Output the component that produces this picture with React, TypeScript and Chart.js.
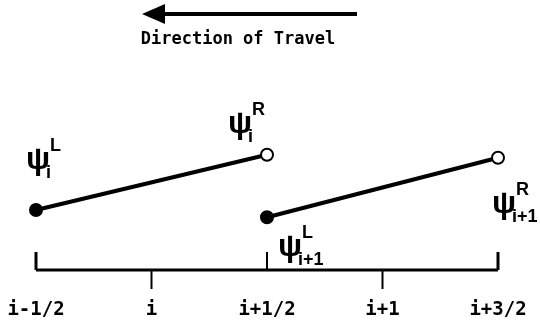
import React, { useEffect, useRef } from "react";
import { Chart, registerables } from "chart.js";

Chart.register(...registerables);

// ---- data ----
const tickPositions = [0, 1, 2, 3, 4];
const tickLabels = ["i-1/2", "i", "i+1/2", "i+1", "i+3/2"];
const cellLeftEdge = [0, 2]; // i-1/2, i+1/2
const cellRightEdge = [2, 4]; // i+1/2, i+3/2
const psiLeftValues = [1.0, 0.88]; // ψ_i^L, ψ_{i+1}^L
const psiRightValues = [1.92, 1.87]; // ψ_i^R, ψ_{i+1}^R
const cellSubscripts = ["i", "i+1"];
const titleText = "Direction of Travel";

const datasets = cellSubscripts.map((_, k) => ({
  label: "cell " + cellSubscripts[k],
  data: [
    { x: cellLeftEdge[k], y: psiLeftValues[k] },
    { x: cellRightEdge[k], y: psiRightValues[k] },
  ],
  showLine: true,
  borderColor: "#000",
  borderWidth: 4,
  pointRadius: 6,
  pointBorderWidth: 2,
  pointBorderColor: "#000",
  pointBackgroundColor: ["#000", "#fff"],
  clip: false as const,
}));

// label placement: which point, and offset of ψ centre from that point
const psiLabels = [
  { ds: 0, pt: 0, sup: "L", dx: 2, dy: -48 },
  { ds: 0, pt: 1, sup: "R", dx: -27, dy: -29 },
  { ds: 1, pt: 0, sup: "L", dx: 23, dy: 32 },
  { ds: 1, pt: 1, sup: "R", dx: 6, dy: 48 },
];

const annotate = {
  id: "annotate",
  beforeDatasetsDraw(chart: any) {
    const { ctx } = chart;
    const x = chart.scales.x;
    const y = chart.scales.y;
    const y0 = y.getPixelForValue(0);
    const last = tickPositions.length - 1;
    ctx.save();
    ctx.strokeStyle = "#000";
    ctx.fillStyle = "#000";
    ctx.lineWidth = 3;
    ctx.beginPath();
    ctx.moveTo(x.getPixelForValue(tickPositions[0]), y0);
    ctx.lineTo(x.getPixelForValue(tickPositions[last]), y0);
    ctx.stroke();
    tickPositions.forEach((v, i) => {
      const px = x.getPixelForValue(v);
      const up = i % 2 === 0;
      ctx.lineWidth = i === 0 || i === last ? 3 : 2;
      ctx.beginPath();
      ctx.moveTo(px, y0);
      ctx.lineTo(px, up ? y0 - 18 : y0 + 19);
      ctx.stroke();
    });
    ctx.font = "bold 19px 'DejaVu Sans Mono'";
    ctx.textAlign = "center";
    ctx.textBaseline = "middle";
    tickLabels.forEach((t, i) => {
      ctx.fillText(t, x.getPixelForValue(tickPositions[i]), y0 + 40);
    });
    ctx.restore();
  },
  afterDraw(chart: any) {
    const { ctx } = chart;
    ctx.save();
    ctx.fillStyle = "#000";
    ctx.strokeStyle = "#000";
    // arrow
    ctx.lineWidth = 4;
    ctx.beginPath();
    ctx.moveTo(357, 14);
    ctx.lineTo(160, 14);
    ctx.stroke();
    ctx.beginPath();
    ctx.moveTo(142, 14);
    ctx.lineTo(165, 4);
    ctx.lineTo(165, 24);
    ctx.closePath();
    ctx.fill();
    // title
    ctx.font = "bold 17px 'DejaVu Sans Mono'";
    ctx.textAlign = "center";
    ctx.textBaseline = "middle";
    ctx.fillText(titleText, 238, 40);
    // psi labels
    psiLabels.forEach((l) => {
      const el = chart.getDatasetMeta(l.ds).data[l.pt];
      const cx = el.x + l.dx;
      const cy = el.y + l.dy;
      ctx.font = "bold 32px 'Liberation Sans'";
      ctx.textAlign = "center";
      ctx.textBaseline = "alphabetic";
      const m = ctx.measureText("ψ");
      const asc = m.actualBoundingBoxAscent || 0;
      const desc = m.actualBoundingBoxDescent || 0;
      ctx.fillText("ψ", cx, cy + (asc - desc) / 2);
      ctx.font = "bold 18px 'Liberation Sans'";
      ctx.textAlign = "left";
      ctx.textBaseline = "middle";
      ctx.fillText(l.sup, cx + 12, cy - 16);
      ctx.fillText(cellSubscripts[l.ds], cx + 8, cy + 11);
    });
    ctx.restore();
  },
};

export default function App() {
  const ref = useRef<HTMLCanvasElement | null>(null);
  useEffect(() => {
    if (!ref.current) return;
    const chart = new Chart(ref.current, {
      type: "scatter",
      data: { datasets },
      options: {
        animation: false,
        responsive: true,
        maintainAspectRatio: false,
        events: [],
        layout: { padding: { left: 36, right: 42, top: 90, bottom: 58 } },
        plugins: {
          legend: { display: false },
          tooltip: { enabled: false },
          title: { display: false },
        },
        scales: {
          x: { type: "linear", min: 0, max: 4, display: false },
          y: { type: "linear", min: 0, max: 3, display: false },
        },
      },
      plugins: [annotate],
    });
    return () => chart.destroy();
  }, []);
  return (
    <div
      style={{
        position: "fixed",
        left: 0,
        top: 0,
        width: 540,
        height: 328,
        background: "#fff",
      }}
    >
      <canvas ref={ref} />
    </div>
  );
}
